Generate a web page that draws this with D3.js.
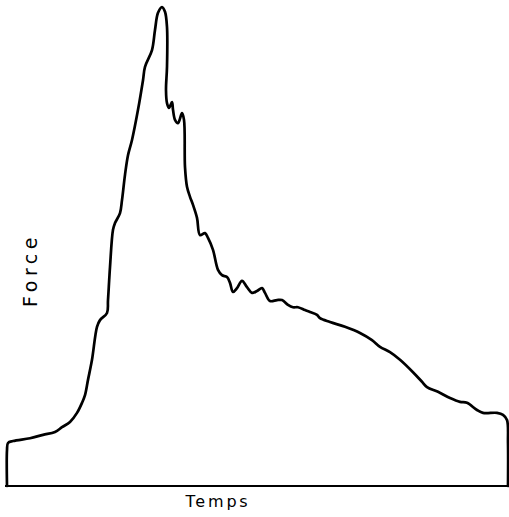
<!DOCTYPE html>
<html>
<head>
<meta charset="utf-8">
<script src="https://cdn.jsdelivr.net/npm/d3@7"></script>
<style>
	body { margin: 0; background: #fff; }
	.curve { fill: none; stroke: #000; stroke-width: 2.7; stroke-linejoin: round; stroke-linecap: round; }
	.axis-line { stroke: #000; stroke-width: 2.2; }
	.label { font-family: 'DejaVu Sans', sans-serif; fill: #000; }
</style>
</head>
<body>
<script>
// Force-time trace (arbitrary units 0-100)
var temps = [0, 0, 0.2, 1.2, 4.6, 7.2, 9.6, 11.0, 12.6, 14.0, 15.0, 15.6, 16.2, 17.0, 18.0, 18.6, 20.0, 20.2, 20.6, 21.2,
	21.6, 22.6, 23.0, 23.6, 24.2, 25.0, 26.2, 27.2, 27.6, 29.0, 29.6, 30.2, 31.0, 31.6, 32.0, 32.0, 31.8, 32.0, 32.4, 33.0,
	33.2, 33.6, 34.2, 35.0, 35.4, 35.6, 36.0, 36.6, 37.2, 38.0, 38.6, 39.6, 40.2, 41.2, 42.2, 43.0, 44.0, 44.6, 45.2, 46.0,
	47.0, 48.0, 49.0, 50.0, 51.0, 51.6, 52.6, 54.0, 55.0, 56.2, 57.2, 58.2, 59.6, 60.6, 62.0, 62.6, 64.6, 67.6, 70.6, 73.0,
	74.6, 76.6, 78.6, 81.2, 83.0, 84.0, 86.2, 88.6, 90.6, 92.0, 94.0, 95.2, 98.0, 99.2, 100.0, 100.2, 100.2];
var force = [0, 7.5, 9.0, 9.4, 10.0, 10.7, 11.3, 12.3, 13.4, 15.3, 17.4, 19.0, 22.2, 26.4, 33.3, 34.7, 36.2, 38.9, 45.8, 53.6,
	55.0, 57.1, 59.8, 65.1, 69.2, 72.4, 78.7, 84.9, 87.7, 91.2, 95.4, 99.0, 100.2, 99.2, 96.0, 87.7, 82.8, 80.1, 79.1, 80.3,
	78.7, 76.6, 75.9, 78.0, 76.6, 66.7, 62.6, 60.5, 58.8, 56.1, 52.5, 52.9, 51.9, 49.4, 45.2, 44.1, 43.7, 42.5, 40.6, 41.4,
	42.9, 41.6, 40.4, 40.8, 41.4, 40.4, 38.7, 38.9, 38.9, 37.9, 37.4, 37.4, 36.8, 36.4, 35.8, 35.1, 34.3, 33.3, 32.0, 30.5,
	29.1, 28.0, 26.4, 23.8, 21.8, 20.7, 19.7, 18.4, 17.6, 17.4, 15.9, 15.3, 15.3, 14.9, 13.8, 9.0, 0];
var xLabel = 'Temps';
var yLabel = 'Force';

var width = 509, height = 517;
var points = temps.map(function(t, i) { return [t, force[i]]; });

var x = d3.scaleLinear().domain([0, 100]).range([7, 507]);
var y = d3.scaleLinear().domain([0, 100]).range([486, 8]);

var svg = d3.select('body').append('svg')
	.attr('width', width)
	.attr('height', height);

// baseline (time axis)
svg.append('line')
	.attr('class', 'axis-line')
	.attr('x1', x(-0.4)).attr('x2', x(100.4))
	.attr('y1', y(0)).attr('y2', y(0));

var line = d3.line()
	.x(function(d) { return x(d[0]); })
	.y(function(d) { return y(d[1]); })
	.curve(d3.curveCatmullRom.alpha(0.5));

svg.append('path')
	.datum(points)
	.attr('class', 'curve')
	.attr('d', line);

svg.append('text')
	.attr('class', 'label')
	.attr('x', 218).attr('y', 507)
	.attr('text-anchor', 'middle')
	.style('font-size', '16px')
	.style('letter-spacing', '2.8px')
	.text(xLabel);

svg.append('text')
	.attr('class', 'label')
	.attr('transform', 'translate(37,270) rotate(-90)')
	.attr('text-anchor', 'middle')
	.style('font-size', '19px')
	.style('letter-spacing', '4.5px')
	.text(yLabel);
</script>
</body>
</html>
